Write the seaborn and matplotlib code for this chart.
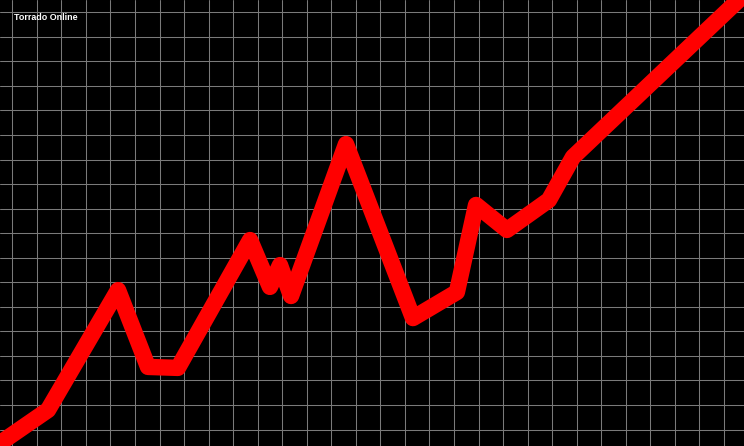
import pandas as pd
import numpy as np
import matplotlib
matplotlib.use("Agg")
import matplotlib.pyplot as plt
import seaborn as sns

# valores (unidades = celdas de la rejilla)
x_vals = [-1.32, 1.455, 4.31, 5.53, 6.75, 9.69, 10.50, 10.91, 11.36, 13.60,
          16.33, 18.12, 18.90, 20.16, 21.87, 22.85, 30.47]
y_vals = [-1.12, 0.795, 5.68, 2.55, 2.51, 7.72, 5.81, 6.70, 5.44, 11.63,
          4.54, 5.60, 9.15, 8.13, 9.35, 11.10, 18.32]
titulo = "Torrado Online"

df = pd.DataFrame({"x": x_vals, "y": y_vals})

sns.set_style("dark", {"axes.facecolor": "black", "figure.facecolor": "black",
                       "grid.color": "#7a7a7a"})

fig = plt.figure(figsize=(7.44, 4.46), dpi=100)
ax = fig.add_axes([0, 0, 1, 1])

sns.lineplot(data=df, x="x", y="y", sort=False, color="#ff0000",
             linewidth=11.8, solid_joinstyle="round", ax=ax)

# rejilla cuadrada
ax.set_xlim(-0.501, 29.82)
ax.set_ylim(-0.672, 17.5)
ax.set_xticks(np.arange(0, 30))
ax.set_yticks(np.arange(0, 18))
ax.grid(True, color="#7a7a7a", linewidth=0.75)
ax.set_axisbelow(True)
ax.tick_params(length=0, labelbottom=False, labelleft=False)
ax.set_xlabel("")
ax.set_ylabel("")
for s in ax.spines.values():
    s.set_visible(False)

fig.text(14 / 744, 1 - 20 / 446, titulo, color="white", fontsize=6.4,
         weight="bold", family=["Liberation Sans", "DejaVu Sans"],
         ha="left", va="baseline")

fig.savefig("out.png", dpi=100, facecolor="black")
